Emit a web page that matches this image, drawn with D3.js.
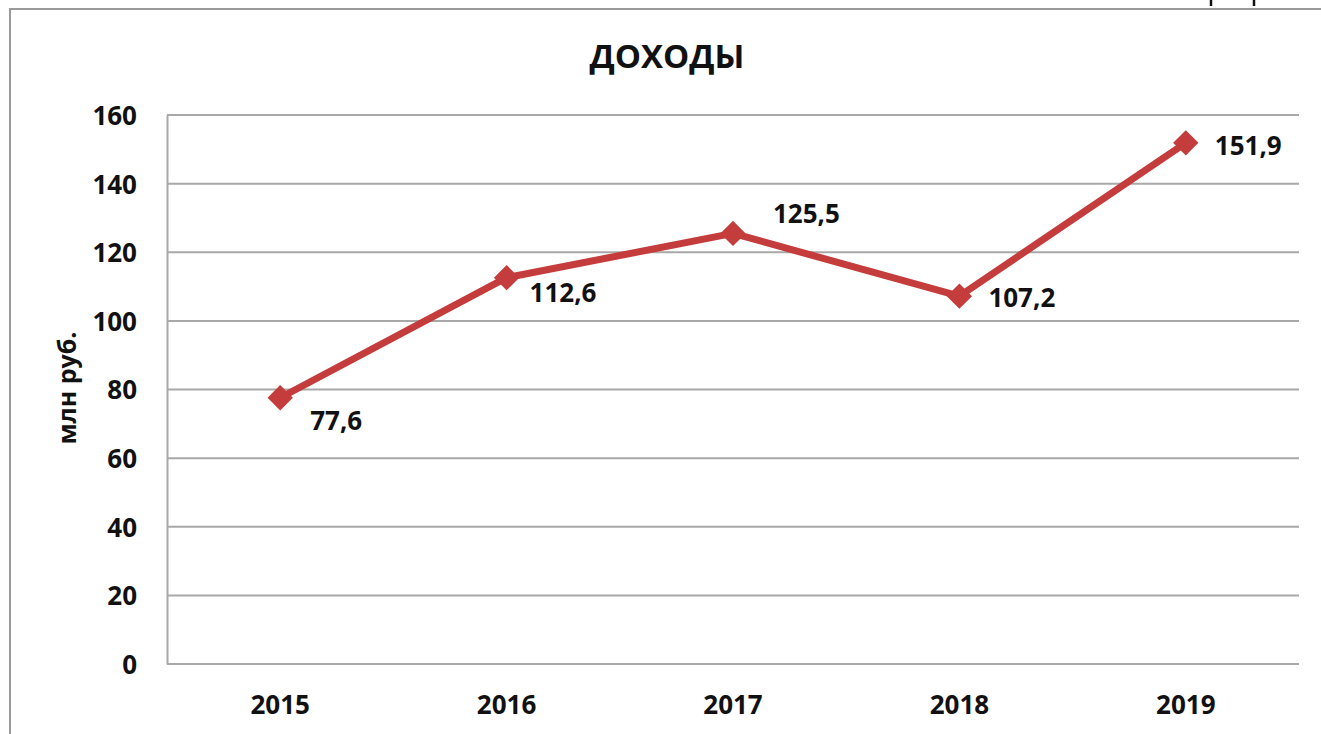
<!DOCTYPE html>
<html>
<head>
<meta charset="utf-8">
<script src="https://cdn.jsdelivr.net/npm/d3@7/dist/d3.min.js"></script>
<style>
  body { margin: 0; background: #fff; }
  text { font-family: "Open Sans", "DejaVu Sans", sans-serif; fill: #111; }
</style>
</head>
<body>
<script>

  const years = ['2015', '2016', '2017', '2018', '2019']
  const income = [77.6, 112.6, 125.5, 107.2, 151.9]
  const yTicks = [0, 20, 40, 60, 80, 100, 120, 140, 160]

  const width = 1321, height = 734
  const plot = {left: 167, right: 1299, top: 115, bottom: 664}
  const red = '#c43c3b'

  // label offsets relative to each point (hand-placed, as in the picture)
  const labelOffset = [[30, 32], [23, 24], [40, -10], [29, 11], [29, 12]]

  const svg = d3.select('body').append('svg')
      .attr('width', width)
      .attr('height', height)

  // chart frame (runs past the window on the right and bottom)
  svg.append('rect')
    .attr('x', 10).attr('y', 9)
    .attr('width', 1330).attr('height', 760)
    .attr('fill', 'none')
    .attr('stroke', '#9a9a9a')
    .attr('stroke-width', 2)

  // stubs of a cropped line of text above the frame
  svg.selectAll('.cut')
    .data([1211, 1254])
    .enter().append('line')
      .attr('x1', d => d).attr('x2', d => d)
      .attr('y1', 0).attr('y2', 6)
      .attr('stroke', '#111')
      .attr('stroke-width', 2.5)

  const x = d3.scaleBand()
    .domain(years)
    .range([plot.left, plot.right])

  const y = d3.scaleLinear()
    .domain([0, 160])
    .range([plot.bottom, plot.top])

  // gridlines
  svg.append('g')
    .selectAll('line')
    .data(yTicks.filter(d => d > 0))
    .enter().append('line')
      .attr('x1', plot.left).attr('x2', plot.right)
      .attr('y1', d => y(d)).attr('y2', d => y(d))
      .attr('stroke', '#a8a8a8')
      .attr('stroke-width', 2)

  // y axis
  const gy = svg.append('g')
    .attr('transform', `translate(${plot.left}, 0)`)
    .call(d3.axisLeft(y).tickValues(yTicks).tickSize(0).tickPadding(30))
  gy.select('.domain').attr('stroke', '#a8a8a8').attr('stroke-width', 2)
  gy.selectAll('text')
    .style('font-size', '26px')
    .style('font-weight', 'bold')
    .attr('dy', '0.36em')

  // x axis
  const gx = svg.append('g')
    .attr('transform', `translate(0, ${plot.bottom})`)
    .call(d3.axisBottom(x).tickSize(0).tickPadding(24))
  gx.select('.domain')
    .attr('stroke', '#a8a8a8').attr('stroke-width', 2)
    .attr('d', `M${plot.left},0H${plot.right}`)
  gx.selectAll('text')
    .style('font-size', '26px')
    .style('font-weight', 'bold')
    .attr('dy', '1em')

  // title
  svg.append('text')
    .attr('x', 667).attr('y', 68)
    .style('text-anchor', 'middle')
    .style('font-size', '33px')
    .style('font-weight', 'bold')
    .text('ДОХОДЫ')

  // y axis title
  svg.append('text')
    .attr('transform', `translate(76, 388) rotate(-90)`)
    .style('text-anchor', 'middle')
    .style('font-size', '25px')
    .style('font-weight', 'bold')
    .text('млн руб.')

  const cx = (d, i) => x(years[i]) + x.bandwidth() / 2

  const line = d3.line()
    .x(cx)
    .y(d => y(d))

  svg.append('path')
    .datum(income)
    .attr('d', line)
    .attr('fill', 'none')
    .attr('stroke', red)
    .attr('stroke-width', 7)
    .attr('stroke-linejoin', 'round')

  svg.selectAll('.marker')
    .data(income)
    .enter().append('path')
      .attr('class', 'marker')
      .attr('d', d3.symbol(d3.symbolSquare, 320))
      .attr('transform', (d, i) => `translate(${cx(d, i)}, ${y(d)}) rotate(45)`)
      .attr('fill', red)

  svg.selectAll('.label')
    .data(income)
    .enter().append('text')
      .attr('class', 'label')
      .attr('x', (d, i) => cx(d, i) + labelOffset[i][0])
      .attr('y', (d, i) => y(d) + labelOffset[i][1])
      .style('font-size', '26px')
      .style('font-weight', 'bold')
      .text(d => d.toFixed(1).replace('.', ','))

</script>
</body>
</html>
